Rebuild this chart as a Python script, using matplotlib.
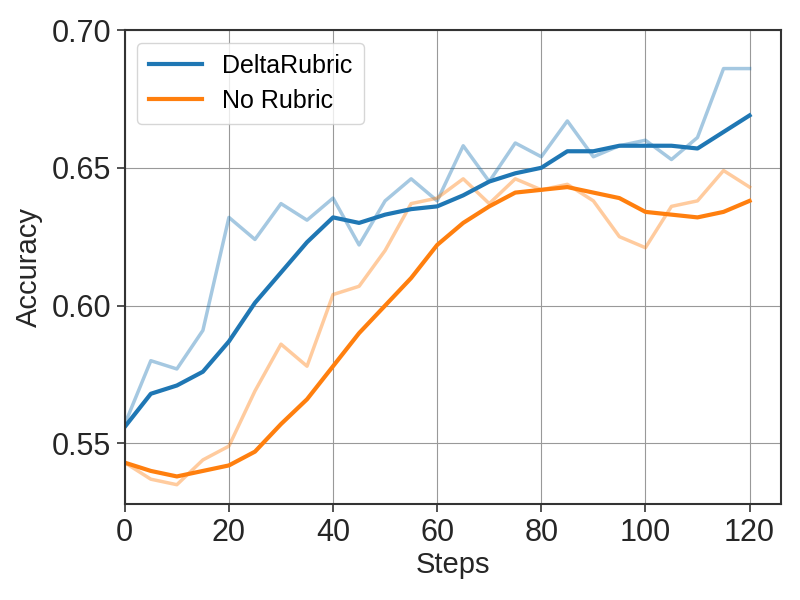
import numpy as np
import matplotlib.pyplot as plt

plt.rcParams['font.family'] = ['Liberation Sans', 'DejaVu Sans']

steps = np.arange(0, 121, 5)

delta_raw = [0.557, 0.580, 0.577, 0.591, 0.632, 0.624, 0.637, 0.631, 0.639, 0.622,
             0.638, 0.646, 0.638, 0.658, 0.645, 0.659, 0.654, 0.667, 0.654, 0.658,
             0.660, 0.653, 0.661, 0.686, 0.686]
delta_smooth = [0.556, 0.568, 0.571, 0.576, 0.587, 0.601, 0.612, 0.623, 0.632, 0.630,
                0.633, 0.635, 0.636, 0.640, 0.645, 0.648, 0.650, 0.656, 0.656, 0.658,
                0.658, 0.658, 0.657, 0.663, 0.669]
norub_raw = [0.543, 0.537, 0.535, 0.544, 0.549, 0.569, 0.586, 0.578, 0.604, 0.607,
             0.620, 0.637, 0.639, 0.646, 0.637, 0.646, 0.642, 0.644, 0.638, 0.625,
             0.621, 0.636, 0.638, 0.649, 0.643]
norub_smooth = [0.543, 0.540, 0.538, 0.540, 0.542, 0.547, 0.557, 0.566, 0.578, 0.590,
                0.600, 0.610, 0.622, 0.630, 0.636, 0.641, 0.642, 0.643, 0.641, 0.639,
                0.634, 0.633, 0.632, 0.634, 0.638]

blue = '#1f77b4'
orange = '#ff7f0e'

fig, ax = plt.subplots(figsize=(8, 6), dpi=100)
fig.subplots_adjust(left=0.156, right=0.976, top=0.95, bottom=0.16)

ax.plot(steps, delta_raw, color=blue, alpha=0.4, linewidth=2.5)
ax.plot(steps, norub_raw, color=orange, alpha=0.4, linewidth=2.5)
ax.plot(steps, delta_smooth, color=blue, linewidth=3, label='DeltaRubric')
ax.plot(steps, norub_smooth, color=orange, linewidth=3, label='No Rubric')

ax.set_xlim(0, 126)
ax.set_ylim(0.528, 0.70)
ax.set_yticks([0.55, 0.60, 0.65, 0.70])
ax.set_yticklabels(['0.55', '0.60', '0.65', '0.70'])
ax.set_xticks([0, 20, 40, 60, 80, 100, 120])

ax.grid(True, color='#999999', linewidth=0.8)
for s in ax.spines.values():
    s.set_color('#333333')
    s.set_linewidth(1.5)
ax.tick_params(labelsize=22, length=6, width=1.2, color='#333333', labelcolor='#262626', pad=4)

ax.set_xlabel('Steps', fontsize=21, color='#262626', labelpad=2)
ax.set_ylabel('Accuracy', fontsize=21, color='#262626', labelpad=6)
ax.legend(loc='upper left', fontsize=18, handlelength=2.15, handletextpad=0.8,
          borderpad=0.45, labelspacing=0.45)

fig.savefig('out.png')
